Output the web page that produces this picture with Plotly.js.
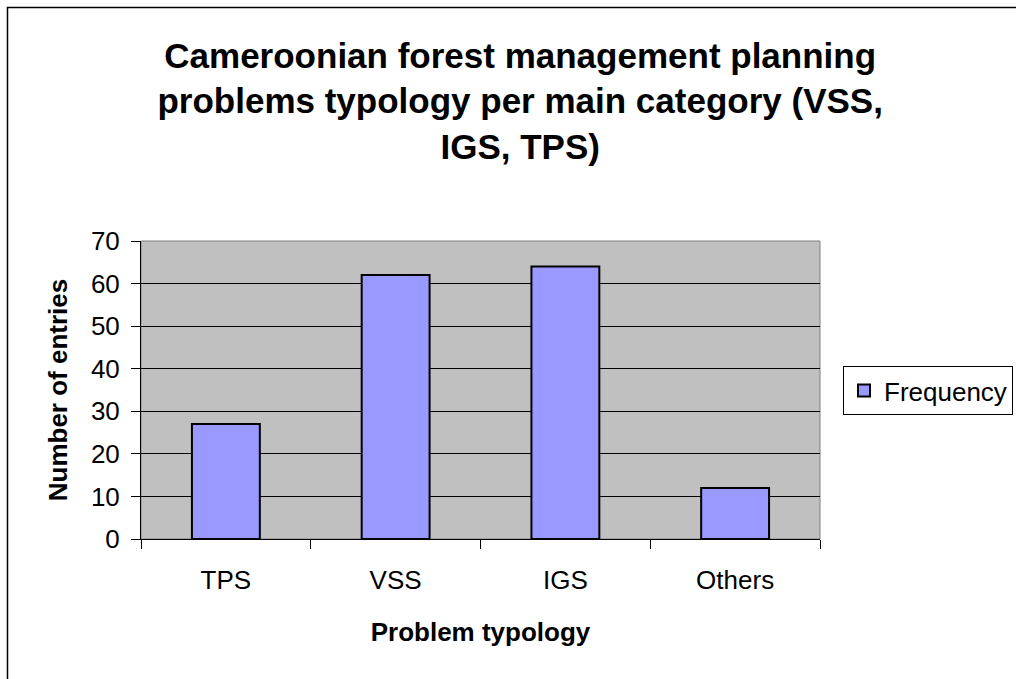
<!DOCTYPE html>
<html>
<head>
<meta charset="utf-8">
<script src="https://cdn.plot.ly/plotly-3.0.1.min.js"></script>
<style>html,body{margin:0;padding:0;background:#fff;}#chart{width:1016px;height:679px;}</style>
</head>
<body>
<div id="chart"></div>
<script>
const categories = ["TPS", "VSS", "IGS", "Others"];
const frequency = [27, 62, 64, 12];
const seriesName = "Frequency";
const yTickValues = [0, 10, 20, 30, 40, 50, 60, 70];

const FONT = "Liberation Sans, Arial, sans-serif";

const trace = {
  type: "bar",
  x: categories,
  y: frequency,
  name: seriesName,
  marker: { color: "#9999FF", line: { color: "#000000", width: 2 } },
  hoverinfo: "x+y"
};

const layout = {
  width: 1016,
  height: 679,
  margin: { l: 141, r: 196, t: 241, b: 140, pad: 0 },
  paper_bgcolor: "#FFFFFF",
  plot_bgcolor: "#C0C0C0",
  font: { family: FONT, size: 26, color: "#000000" },
  bargap: 0.6,
  showlegend: true,
  title: {
    text: "Cameroonian forest management planning<br>problems typology per main category (VSS,<br>IGS, TPS)",
    font: { family: FONT, size: 35, color: "#000000", weight: "bold" },
    xref: "container", x: 0.512, xanchor: "center",
    yref: "container", y: 0.9005, yanchor: "top"
  },
  xaxis: {
    type: "category",
    tickson: "boundaries",
    ticks: "outside", ticklen: 9, tickwidth: 1, tickcolor: "#000000",
    showline: true, linecolor: "#000000", linewidth: 1,
    showgrid: false, zeroline: false,
    tickfont: { family: FONT, size: 26 },
    ticklabelstandoff: 18,
    title: { text: "Problem typology", font: { family: FONT, size: 26, weight: "bold" }, standoff: 28 }
  },
  yaxis: {
    range: [0, 70],
    tickvals: yTickValues,
    ticks: "outside", ticklen: 9, tickwidth: 1, tickcolor: "#000000",
    showline: true, linecolor: "#000000", linewidth: 1,
    showgrid: true, gridcolor: "#000000", gridwidth: 1,
    zeroline: false,
    tickfont: { family: FONT, size: 26 },
    ticklabelstandoff: 6,
    title: { text: "Number of entries", font: { family: FONT, size: 26, weight: "bold" }, standoff: 15 }
  },
  legend: {
    xref: "container", x: 843 / 1016, xanchor: "left",
    yref: "container", y: 1 - 366 / 679, yanchor: "top",
    bordercolor: "#000000", borderwidth: 1, bgcolor: "#FFFFFF",
    font: { family: FONT, size: 26 },
    itemwidth: 30
  },
  shapes: [
    { type: "rect", xref: "paper", yref: "paper", x0: 0, x1: 1, y0: 0, y1: 1,
      line: { color: "#808080", width: 1 }, layer: "below" },
    { type: "rect", xref: "paper", yref: "paper",
      x0: (7.5 - 141) / 679, x1: (1040 - 141) / 679,
      y0: (539 - 720) / 298, y1: (539 - 7.5) / 298,
      line: { color: "#000000", width: 1.5 } }
  ]
};

Plotly.newPlot("chart", [trace], layout, { displayModeBar: false, staticPlot: true });
</script>
</body>
</html>
